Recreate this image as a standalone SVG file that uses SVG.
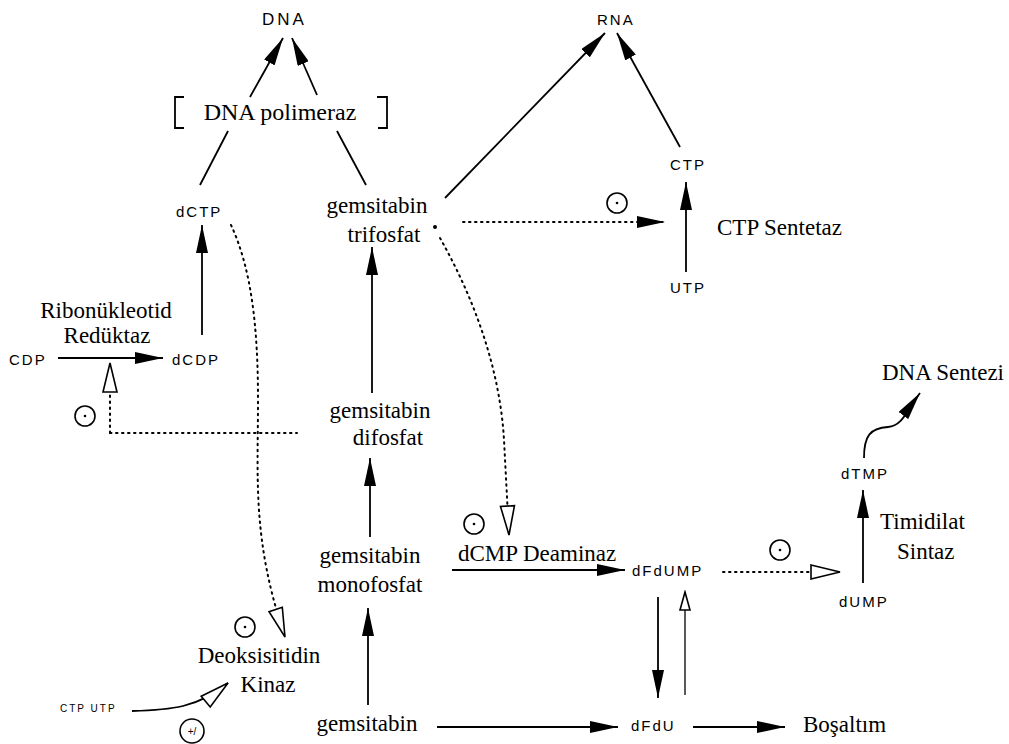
<svg xmlns="http://www.w3.org/2000/svg" width="1009" height="744" viewBox="0 0 1009 744">
<style>
.ln{stroke:#000;stroke-width:1.8;fill:none}
.thin{stroke:#000;stroke-width:1.3;fill:none}
.dt{stroke:#000;stroke-width:2;stroke-dasharray:1.5 4.5;stroke-linecap:round;fill:none}
.sans{font-family:"Liberation Sans",Arial,sans-serif;font-size:15px;letter-spacing:2px;fill:#000}
.serif{font-family:"Liberation Serif","Times New Roman",serif;font-size:23px;fill:#000}
.inh{fill:none;stroke:#000;stroke-width:1.6}
</style>
<defs>
<marker id="fa" viewBox="0 0 28 12" refX="28" refY="6" markerWidth="28" markerHeight="12" markerUnits="userSpaceOnUse" orient="auto"><path d="M0,0 L28,6 L0,12 z" fill="#000"/></marker>
<marker id="ha" viewBox="-2 -2 33 18" refX="29" refY="7" markerWidth="33" markerHeight="18" markerUnits="userSpaceOnUse" orient="auto"><path d="M0,0 L29,7 L0,14 z" fill="#fff" stroke="#000" stroke-width="1.6"/></marker>
<marker id="hs" viewBox="-2 -2 22 14" refX="18" refY="5" markerWidth="22" markerHeight="14" markerUnits="userSpaceOnUse" orient="auto"><path d="M0,0 L18,5 L0,10 z" fill="#fff" stroke="#000" stroke-width="1.6"/></marker>
<g id="inhib"><circle r="10" class="inh"/><circle r="1.3" fill="#000"/></g>
</defs>

<g id="connectors">
<path class="ln" d="M250,97 L283,38" marker-end="url(#fa)"/>
<path class="ln" d="M317,95 L292,38" marker-end="url(#fa)"/>
<path class="ln" d="M228,131 L200,185"/>
<path class="ln" d="M337,131 L366,185"/>
<path class="ln" d="M445,198 L605,33" marker-end="url(#fa)"/>
<path class="ln" d="M680,147 L617,33" marker-end="url(#fa)"/>
<path class="ln" d="M686,272 L686,182" marker-end="url(#fa)"/>
<circle cx="435" cy="227" r="2" fill="#000"/>
<path class="dt" d="M463,222 L665,222" marker-end="url(#fa)"/>
<path class="ln" d="M202,335 L202,225" marker-end="url(#fa)"/>
<path class="ln" d="M58,358 L163,358" marker-end="url(#fa)"/>
<path class="dt" d="M110,433 L110,363" marker-end="url(#ha)"/>
<path class="dt" d="M110,433 L297,433"/>
<path class="dt" d="M231,225 C252,270 258,330 258,400 C258,480 252,540 285,637" marker-end="url(#ha)"/>
<path class="dt" d="M440,238 C475,300 500,370 504,440 L509,535" marker-end="url(#ha)"/>
<path class="ln" d="M368,705 L368,608" marker-end="url(#fa)"/>
<path class="ln" d="M370,537 L370,458" marker-end="url(#fa)"/>
<path class="ln" d="M372,393 L372,247" marker-end="url(#fa)"/>
<path class="ln" d="M452,570 L625,570" marker-end="url(#fa)"/>
<path class="ln" d="M437,727 L618,727" marker-end="url(#fa)"/>
<path class="ln" d="M693,727 L785,727" marker-end="url(#fa)"/>
<path class="ln" d="M658,597 L658,698" marker-end="url(#fa)"/>
<path class="thin" d="M685,695 L685,592" marker-end="url(#hs)"/>
<path class="dt" d="M723,572 L840,572" marker-end="url(#ha)"/>
<path class="ln" d="M863,583 L863,490" marker-end="url(#fa)"/>
<path class="ln" d="M864,458 C864,436 870,428 888,427 C902,426 906,412 920,393" marker-end="url(#fa)"/>
<path class="ln" d="M132,711 C170,710 198,708 228,683" marker-end="url(#ha)"/>
</g>

<g id="n-dna"><text class="sans" x="262" y="25" style="font-size:17px;letter-spacing:3px">DNA</text></g>
<g id="n-rna"><text class="sans" x="597" y="25">RNA</text></g>
<g id="n-dnapol">
<path class="ln" d="M184,97 H175 V128 H184 M377,97 H387 V128 H378"/>
<text class="serif" x="280" y="120" text-anchor="middle" style="font-size:24px">DNA polimeraz</text>
</g>
<g id="n-dctp"><text class="sans" x="176" y="217">dCTP</text></g>
<g id="n-gtp">
<text class="serif" x="377" y="213" text-anchor="middle">gemsitabin</text>
<text class="serif" x="384" y="242" text-anchor="middle">trifosfat</text>
</g>
<g id="n-ctp"><text class="sans" x="670" y="170">CTP</text></g>
<g id="n-ctpsent"><text class="serif" x="717" y="235">CTP Sentetaz</text></g>
<g id="n-utp"><text class="sans" x="670" y="293">UTP</text></g>
<g id="n-rnr">
<text class="serif" x="106" y="318" text-anchor="middle">Ribonükleotid</text>
<text class="serif" x="107" y="343" text-anchor="middle">Redüktaz</text>
</g>
<g id="n-cdp"><text class="sans" x="9" y="365">CDP</text></g>
<g id="n-dcdp"><text class="sans" x="172" y="365">dCDP</text></g>
<g id="n-dnasent"><text class="serif" x="882" y="380">DNA Sentezi</text></g>
<g id="n-gdp">
<text class="serif" x="380" y="418" text-anchor="middle">gemsitabin</text>
<text class="serif" x="388" y="445" text-anchor="middle">difosfat</text>
</g>
<g id="n-dtmp"><text class="sans" x="841" y="479">dTMP</text></g>
<g id="n-ts">
<text class="serif" x="880" y="529">Timidilat</text>
<text class="serif" x="897" y="559">Sintaz</text>
</g>
<g id="n-dcmpd"><text class="serif" x="458" y="561">dCMP Deaminaz</text></g>
<g id="n-gmp">
<text class="serif" x="370" y="563" text-anchor="middle">gemsitabin</text>
<text class="serif" x="370" y="592" text-anchor="middle">monofosfat</text>
</g>
<g id="n-dfdump"><text class="sans" x="632" y="576">dFdUMP</text></g>
<g id="n-dump"><text class="sans" x="839" y="607">dUMP</text></g>
<g id="n-dck">
<text class="serif" x="259" y="663" text-anchor="middle">Deoksisitidin</text>
<text class="serif" x="268" y="692" text-anchor="middle">Kinaz</text>
</g>
<g id="n-ctputp"><text class="sans" x="60" y="712" style="font-size:10px;letter-spacing:2px">CTP UTP</text></g>
<g id="n-gem"><text class="serif" x="367" y="731" text-anchor="middle">gemsitabin</text></g>
<g id="n-dfdu"><text class="sans" x="631" y="731">dFdU</text></g>
<g id="n-bos"><text class="serif" x="803" y="732">Boşaltım</text></g>

<g id="inhibitors">
<use href="#inhib" x="617" y="203"/>
<use href="#inhib" x="85" y="416"/>
<use href="#inhib" x="474" y="524"/>
<use href="#inhib" x="780" y="550"/>
<use href="#inhib" x="245" y="627"/>
</g>
<g id="n-act">
<circle cx="192" cy="731" r="12" class="inh"/>
<text x="192" y="735" text-anchor="middle" style="font-family:'Liberation Sans',Arial,sans-serif;font-size:10px">+/</text>
</g>
</svg>
